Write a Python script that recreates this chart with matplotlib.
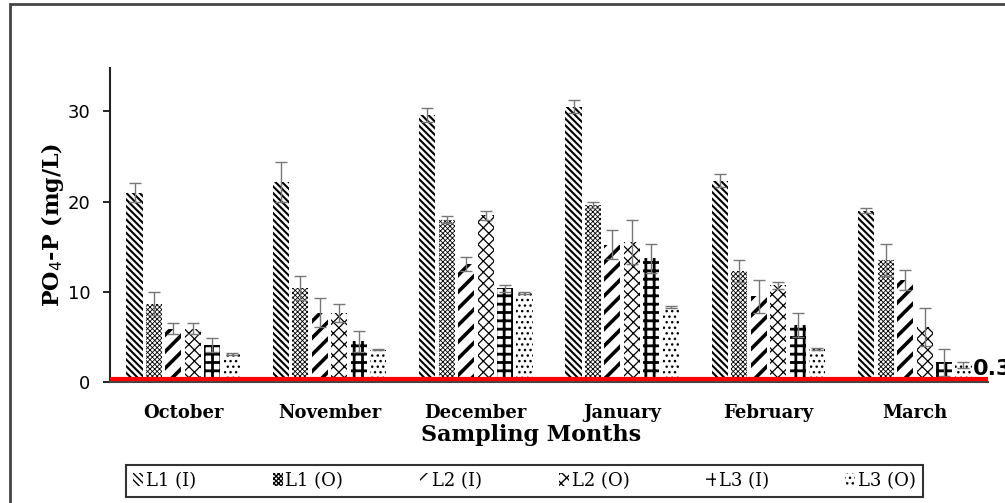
import numpy as np
import matplotlib
matplotlib.use("Agg")
import matplotlib.pyplot as plt
from matplotlib.patches import Rectangle
from matplotlib.transforms import blended_transform_factory

months = ["October", "November", "December", "January", "February", "March"]
series = ["L1 (I)", "L1 (O)", "L2 (I)", "L2 (O)", "L3 (I)", "L3 (O)"]

# mean PO4-P per site, one list per series (Oct..Mar)
l1_in = [21.0, 22.2, 29.6, 30.5, 22.3, 19.0]
l1_out = [8.7, 10.4, 18.0, 19.6, 12.3, 13.5]
l2_in = [5.9, 7.7, 13.1, 15.2, 9.5, 11.3]
l2_out = [5.9, 7.6, 18.5, 15.5, 10.7, 6.1]
l3_in = [4.1, 4.5, 10.4, 13.7, 6.3, 2.2]
l3_out = [3.1, 3.6, 9.9, 8.3, 3.7, 1.9]

# standard deviations
l1_in_sd = [1.0, 2.2, 0.8, 0.7, 0.7, 0.3]
l1_out_sd = [1.3, 1.3, 0.4, 0.3, 1.2, 1.8]
l2_in_sd = [0.6, 1.6, 0.8, 1.6, 1.8, 1.1]
l2_out_sd = [0.6, 1.0, 0.5, 2.4, 0.4, 2.1]
l3_in_sd = [0.8, 1.2, 0.4, 1.6, 1.3, 1.5]
l3_out_sd = [0.1, 0.1, 0.1, 0.1, 0.1, 0.3]

# permissible limit
limit = 0.3

means = [l1_in, l1_out, l2_in, l2_out, l3_in, l3_out]
sds = [l1_in_sd, l1_out_sd, l2_in_sd, l2_out_sd, l3_in_sd, l3_out_sd]
hatches = ["\\\\\\\\\\", "xxxxxxx", "//", "xxx", "++", "..."]
hatch_lw = [1.5, 0.6, 2.6, 0.9, 2.0, 1.0]

fig = plt.figure(figsize=(10.05, 5.03), dpi=100)
ax = fig.add_axes([110 / 1005, 1 - 382 / 503, 878 / 1005, 314 / 503])

x = np.arange(len(months))
slot = 0.133
width = 0.11
for j, (vals, err) in enumerate(zip(means, sds)):
    pos = x + (j - 2.5) * slot
    with plt.rc_context({"hatch.linewidth": hatch_lw[j]}):
        ax.bar(pos, vals, width, color="white", edgecolor="black",
               linewidth=0, hatch=hatches[j], label=series[j], zorder=2)
    ax.errorbar(pos, vals, yerr=err, fmt="none", ecolor="#777777",
                elinewidth=1, capsize=4.5, capthick=1, zorder=3)

ax.axhline(limit, color="red", lw=3, zorder=4)
tr = blended_transform_factory(ax.transAxes, ax.transData)
ax.text(0.983, limit, f"{limit}", transform=tr, fontsize=16,
        fontweight="bold", family="DejaVu Sans", va="bottom", ha="left",
        clip_on=False, zorder=5)

ax.set_xlim(-0.5, len(months) - 0.5)
ax.set_ylim(0, 34.8)
ax.set_yticks([0, 10, 20, 30])
ax.set_xticks(x)
ax.set_xticklabels(months, family="DejaVu Serif", fontweight="bold", fontsize=13)
for lab in ax.get_yticklabels():
    lab.set_family("DejaVu Sans")
    lab.set_fontsize(13)
ax.tick_params(axis="x", length=0, pad=16)
ax.tick_params(axis="y", direction="out", length=5, width=1.2, pad=9)

for side in ["top", "right"]:
    ax.spines[side].set_visible(False)
ax.spines["left"].set_linewidth(1.5)
ax.spines["bottom"].set_linewidth(1.5)
ax.spines["left"].set_color("#222222")
ax.spines["bottom"].set_color("#444444")

ax.set_xlabel("Sampling Months", family="DejaVu Serif", fontweight="bold",
              fontsize=16)
ax.xaxis.set_label_coords(0.48, -0.135)
ax.set_ylabel("PO$_4$-P (mg/L)", family="DejaVu Serif", fontweight="bold",
              fontsize=16)
ax.yaxis.set_label_coords(-0.066, 0.5)
ax.yaxis.label.set_va("center")

leg = ax.legend(loc="lower left", ncol=6, mode="expand",
                bbox_to_anchor=(126 / 1005, 6 / 503, 797 / 1005, 43 / 503),
                bbox_transform=fig.transFigure, frameon=True, fancybox=False,
                edgecolor="black", handlelength=0.55, handleheight=0.8,
                handletextpad=0.15, borderaxespad=0,
                prop={"family": "DejaVu Serif", "size": 13})
leg.get_frame().set_linewidth(1.5)

# outer frame around the whole figure
fig.patches.append(Rectangle((10 / 1005, -0.1), 1.2, 1.1 - 4 / 503,
                             transform=fig.transFigure, fill=False,
                             edgecolor="#444444", lw=2))

fig.savefig("out.png", dpi=100)
